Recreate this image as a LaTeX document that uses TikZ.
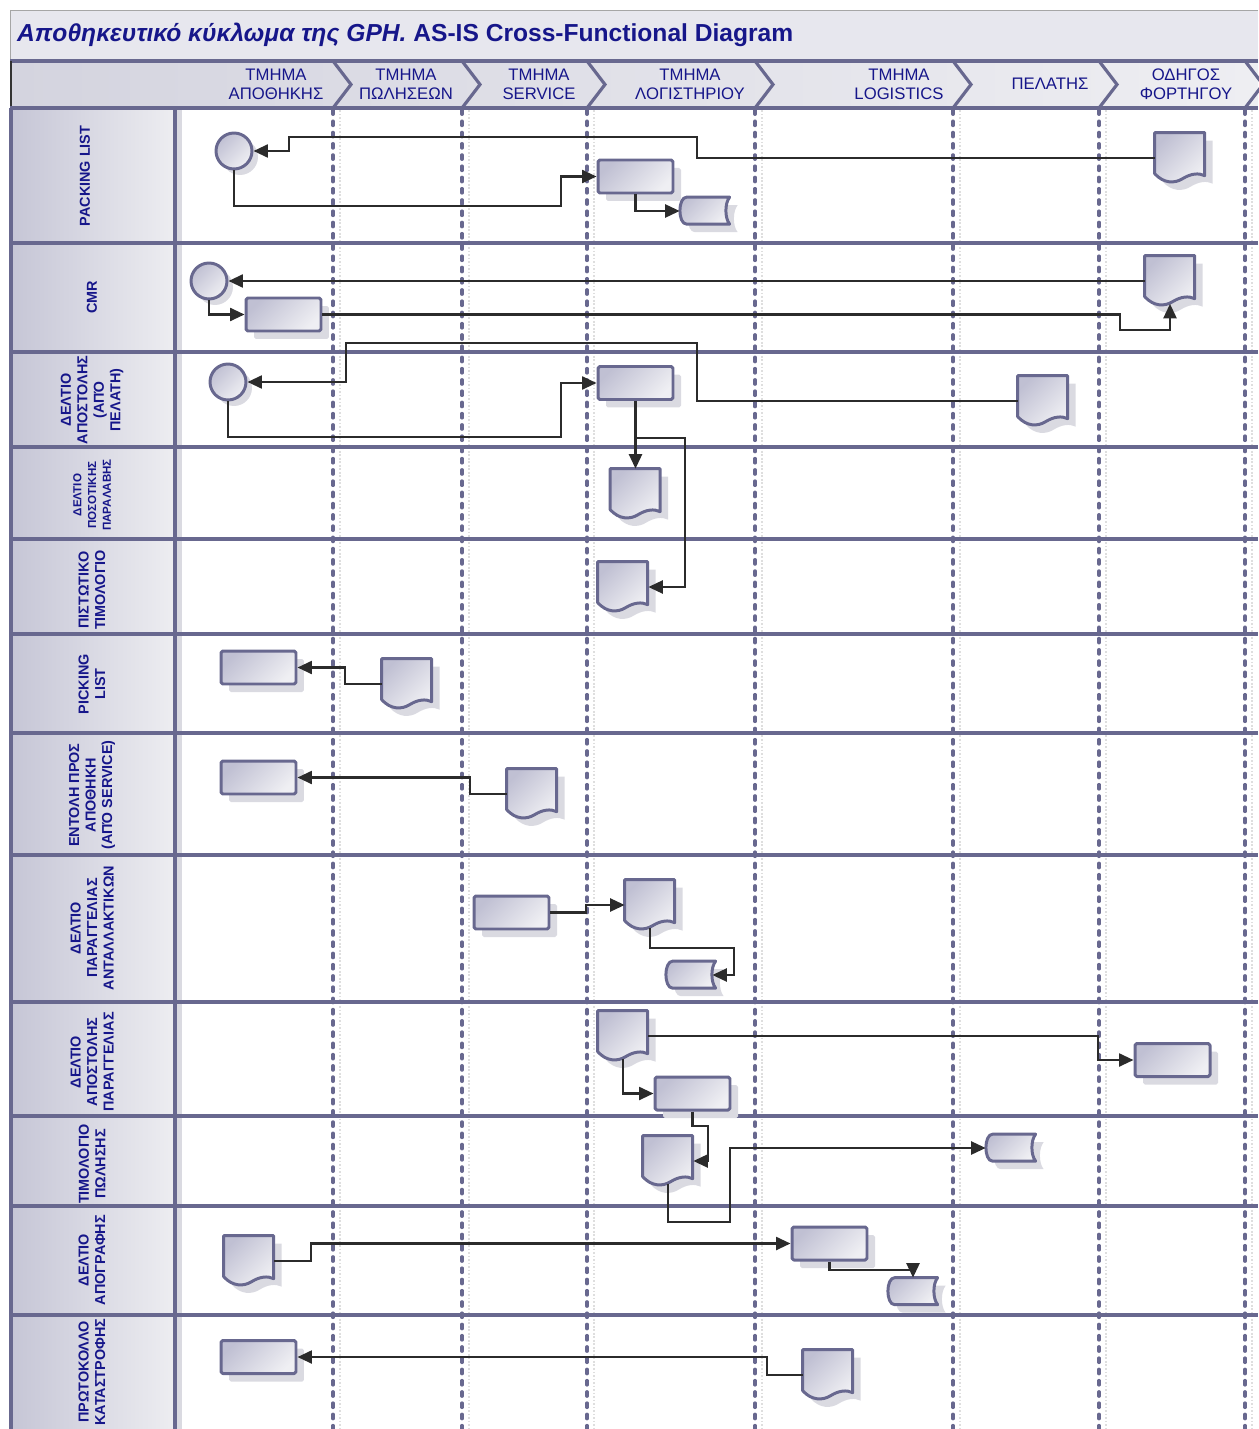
\documentclass[tikz,border=0pt]{standalone}
\usepackage{fontspec}
\setmainfont{Liberation Sans}
\usetikzlibrary{arrows.meta,shadows}

\definecolor{laneline}{HTML}{68688F}
\definecolor{shapetop}{HTML}{C0C0D3}
\definecolor{shapebot}{HTML}{EFEFF3}
\definecolor{shadowfill}{HTML}{DADAE1}
\definecolor{navytext}{HTML}{16168A}
\definecolor{connline}{HTML}{2B2B2B}
\definecolor{celldark}{HTML}{C6C6D6}
\definecolor{celllight}{HTML}{EDEDF1}
\definecolor{barfill}{HTML}{E7E7EE}
\definecolor{hdrdark}{HTML}{D4D4DF}
\definecolor{hdrlight}{HTML}{EEEEF2}

% document symbol with wavy bottom, drawn round an empty node
\newcommand{\drawdoc}[1]{%
  \begin{scope}[shift={(#1.north west)}]
    \fill[shadowfill] (0.16cm,-0.16cm) -- (0.16cm,-0.98cm)
      .. controls (0.34cm,-1.18cm) and (0.56cm,-1.18cm) .. (0.72cm,-1.08cm)
      .. controls (0.88cm,-0.98cm) and (1.04cm,-0.96cm) .. (1.16cm,-1.02cm)
      -- (1.16cm,-0.16cm) -- cycle;
    \draw[docline] (0cm,0cm) -- (0cm,-0.82cm)
      .. controls (0.18cm,-1.02cm) and (0.4cm,-1.02cm) .. (0.56cm,-0.92cm)
      .. controls (0.72cm,-0.82cm) and (0.88cm,-0.8cm) .. (1cm,-0.86cm)
      -- (1cm,0cm) -- cycle;
  \end{scope}}
% stored data symbol
\newcommand{\drawstore}[1]{%
  \begin{scope}[shift={(#1.north west)}]
    \fill[shadowfill] (1.16cm,-0.16cm) -- (0.3cm,-0.16cm)
      .. controls (0.12cm,-0.16cm) and (0.12cm,-0.7cm) .. (0.3cm,-0.7cm)
      -- (1.16cm,-0.7cm) .. controls (1.06cm,-0.58cm) and (1.06cm,-0.28cm) .. (1.16cm,-0.16cm) -- cycle;
    \draw[docline] (1cm,0cm) -- (0.14cm,0cm)
      .. controls (-0.04cm,0cm) and (-0.04cm,-0.54cm) .. (0.14cm,-0.54cm)
      -- (1cm,-0.54cm) .. controls (0.9cm,-0.42cm) and (0.9cm,-0.12cm) .. (1cm,0cm) -- cycle;
  \end{scope}}

\tikzset{
  docline/.style={draw=laneline, line width=1.7pt, line join=round,
    top color=shapetop, bottom color=shapebot, shading angle=45},
  procbox/.style={docline, rounded corners=1pt, minimum width=1.5cm, minimum height=0.66cm, inner sep=0pt,
    drop shadow={shadow xshift=0.16cm, shadow yshift=-0.16cm, fill=shadowfill, opacity=1}},
  startcirc/.style={docline, circle, minimum size=0.72cm, inner sep=0pt,
    drop shadow={shadow xshift=0.12cm, shadow yshift=-0.12cm, fill=shadowfill, opacity=1}},
  docnode/.style={minimum width=1cm, minimum height=1cm, inner sep=0pt,
    append after command={\pgfextra{\drawdoc{\tikzlastnode}}}},
  storenode/.style={minimum width=1cm, minimum height=0.54cm, inner sep=0pt,
    append after command={\pgfextra{\drawstore{\tikzlastnode}}}},
  conn/.style={draw=connline, line width=1.35pt},
  lane/.style={draw=laneline, line width=2pt, line cap=round, dash pattern=on 2.4pt off 4pt},
  laneshadow/.style={draw=black!13, line width=0.8pt, dash pattern=on 1pt off 1pt},
  rowline/.style={draw=laneline, line width=2pt},
  chevron/.style={draw=laneline, line width=1.8pt},
  hdr/.style={text=navytext, align=center, font=\fontsize{9.5}{10.8}\selectfont},
  rowlbl/.style={text=navytext, align=center, rotate=90, font=\fontsize{8.2}{9.4}\selectfont\bfseries},
}

\begin{document}
\begin{tikzpicture}[x=0.02cm, y=-0.02cm, >={Triangle[length=0.29cm, width=0.26cm]}]
\useasboundingbox (0,0) rectangle (1258,1429);

% title bar and header band
\fill[barfill] (10,10) rectangle (1258,61);
\draw[black!35] (10,10) -- (1258,10);
\draw[black!35] (10,10) -- (10,61);
\node[anchor=west, text=navytext, font=\fontsize{14}{16}\selectfont\bfseries] (title) at (11,35)
  {\itshape Αποθηκευτικό κύκλωμα της GPH.\upshape{} AS-IS Cross-Functional Diagram};
\shade[left color=hdrdark, right color=hdrlight] (10,61) rectangle (1258,108);
\draw[rowline] (10,61) -- (1258,61);
\draw[black!80, line width=1.6pt] (11,61) -- (11,108);

% row label cells
\foreach \ya/\yb in {109/243,243/352,352/447,447/539,539/634,634/733,733/855,855/1002,1002/1116,1116/1206,1206/1315,1315/1429}
  \shade[left color=celldark, right color=celllight] (12,\ya) rectangle (174,\yb);
\fill[shadowfill] (177,110) rectangle (182,1429);

% lanes and header chevrons
\foreach \lx in {333,462,587,755,953,1099,1245}{
  \draw[laneshadow] (\lx+7,110) -- (\lx+7,1429);
  \draw[lane] (\lx,110) -- (\lx,1429);
  \draw[chevron] (\lx,61) -- (\lx+18,84.5) -- (\lx,108);
}
\foreach \ry in {108,243,352,447,539,634,733,855,1002,1116,1206,1315}
  \draw[rowline] (10,\ry) -- (1258,\ry);
\draw[rowline] (11,108) -- (11,1429);
\draw[rowline] (175,108) -- (175,1429);

% lane headers
\node[hdr] (hdrwh)   at (276,84)  {ΤΜΗΜΑ\\ΑΠΟΘΗΚΗΣ};
\node[hdr] (hdrsal)  at (406,84)  {ΤΜΗΜΑ\\ΠΩΛΗΣΕΩΝ};
\node[hdr] (hdrsrv)  at (539,84)  {ΤΜΗΜΑ\\SERVICE};
\node[hdr] (hdracc)  at (690,84)  {ΤΜΗΜΑ\\ΛΟΓΙΣΤΗΡΙΟΥ};
\node[hdr] (hdrlog)  at (899,84)  {ΤΜΗΜΑ\\LOGISTICS};
\node[hdr] (hdrcust) at (1050,84) {ΠΕΛΑΤΗΣ};
\node[hdr] (hdrdrv)  at (1186,84) {ΟΔΗΓΟΣ\\ΦΟΡΤΗΓΟΥ};

% row labels
\node[rowlbl] (lblpack)   at (85,176)   {PACKING LIST};
\node[rowlbl] (lblcmr)    at (92,297)   {CMR};
\node[rowlbl] (lbldelcus) at (92,400)   {ΔΕΛΤΙΟ\\ΑΠΟΣΤΟΛΗΣ\\(ΑΠΌ\\ΠΕΛΑΤΗ)};
\node[rowlbl, font=\fontsize{6.6}{8.4}\selectfont\bfseries] (lblqty) at (92,495) {ΔΕΛΤΙΟ\\ΠΟΣΟΤΙΚΗΣ\\ΠΑΡΑΛΑΒΗΣ};
\node[rowlbl] (lblcred)   at (92,590)   {ΠΙΣΤΩΤΙΚΟ\\ΤΙΜΟΛΟΓΙΟ};
\node[rowlbl] (lblpick)   at (92,684)   {PICKING\\LIST};
\node[rowlbl] (lblorder)  at (92,795)   {ΕΝΤΟΛΗ ΠΡΟΣ\\ΑΠΟΘΗΚΗ\\(ΑΠΌ SERVICE)};
\node[rowlbl] (lblparts)  at (92,928)   {ΔΕΛΤΙΟ\\ΠΑΡΑΓΓΕΛΙΑΣ\\ΑΝΤΑΛΛΑΚΤΙΚΩΝ};
\node[rowlbl] (lblship)   at (92,1062)  {ΔΕΛΤΙΟ\\ΑΠΟΣΤΟΛΗΣ\\ΠΑΡΑΓΓΕΛΙΑΣ};
\node[rowlbl] (lblinv)    at (92,1164)  {ΤΙΜΟΛΟΓΙΟ\\ΠΩΛΗΣΗΣ};
\node[rowlbl] (lblstock)  at (92,1260)  {ΔΕΛΤΙΟ\\ΑΠΟΓΡΑΦΗΣ};
\node[rowlbl] (lbldestr)  at (92,1372)  {ΠΡΩΤΟΚΟΛΛΟ\\ΚΑΤΑΣΤΡΟΦΗΣ};

% packing list
\node[startcirc] (c1) at (234,151) {};
\node[docnode]   (d1) at (1180,158) {};
\node[procbox]   (p1) at (635.5,176.5) {};
\node[storenode] (s1) at (705,211) {};
\draw[conn, ->] (d1.west) -| (697,137) -| (289,151) -- (c1.east);
\draw[conn, ->] (c1.south) |- (561,206) |- (p1.west);
\draw[conn, ->] (p1.south) |- (s1.west);

% cmr
\node[startcirc] (c2) at (209,281) {};
\node[procbox]   (p2) at (283.5,314.5) {};
\node[docnode]   (d2) at (1170,281) {};
\draw[conn, ->] (d2.west) -- (c2.east);
\draw[conn, ->] (c2.south) |- (p2.west);
\draw[conn, ->] (p2.east) -| (1120,330) -| ([yshift=0.05cm]d2.south);

% delivery note from customer
\node[startcirc] (c3) at (228,382) {};
\node[procbox]   (p3) at (635.5,383) {};
\node[docnode]   (d3) at (1043,401) {};
\node[docnode]   (d4) at (635.5,494) {};
\node[docnode]   (d5) at (623,587) {};
\draw[conn, ->] (d3.west) -| (697,343) -| (346,382) -- (c3.east);
\draw[conn, ->] (c3.south) |- (561,437) |- (p3.west);
\draw[conn, ->] (p3.south) -- (d4.north);
\draw[conn, ->] (p3.south) ++(0,37) -| (685,587) -- (d5.east);

% picking list
\node[procbox] (p6) at (258.5,667.5) {};
\node[docnode] (d6) at (407,684) {};
\draw[conn, ->] (d6.west) -| (345,667.5) -- (p6.east);

% order to warehouse
\node[procbox] (p7) at (258.5,777.5) {};
\node[docnode] (d7) at (532,794) {};
\draw[conn, ->] (d7.west) -| (470,777.5) -- (p7.east);

% spare parts order
\node[procbox]   (p8) at (511.5,912.5) {};
\node[docnode]   (d8) at (650,905) {};
\node[storenode] (s8) at (691,975) {};
\draw[conn, ->] (p8.east) -| (586,905) -- (d8.west);
\draw[conn, ->] ([yshift=0.05cm]d8.south) |- (734,948) |- ([xshift=-0.08cm]s8.east);

% order delivery note
\node[docnode] (d9)  at (623,1036) {};
\node[procbox] (p9a) at (692.5,1093.5) {};
\node[procbox] (p9b) at (1172.5,1060) {};
\draw[conn, ->] (d9.east) -| (1098,1060) -- (p9b.west);
\draw[conn, ->] ([yshift=0.05cm]d9.south) |- (p9a.west);

% sales invoice
\node[docnode]   (d10) at (668,1161) {};
\node[storenode] (s10) at (1011,1148) {};
\draw[conn, ->] (p9a.south) |- (708,1126) |- (d10.east);
\draw[conn, ->] ([yshift=0.05cm]d10.south) |- (730,1222) |- (s10.west);

% stock count
\node[docnode]   (d11) at (249,1261) {};
\node[procbox]   (p11) at (829.5,1243.5) {};
\node[storenode] (s11) at (913,1291.5) {};
\draw[conn, ->] (d11.east) -| (311,1243.5) -- (p11.west);
\draw[conn, ->] (p11.south) |- (913,1270) -- (s11.north);

% destruction protocol
\node[procbox] (p12) at (258.5,1357) {};
\node[docnode] (d12) at (828,1375) {};
\draw[conn, ->] (d12.west) -| (767,1357) -- (p12.east);
\end{tikzpicture}
\end{document}
